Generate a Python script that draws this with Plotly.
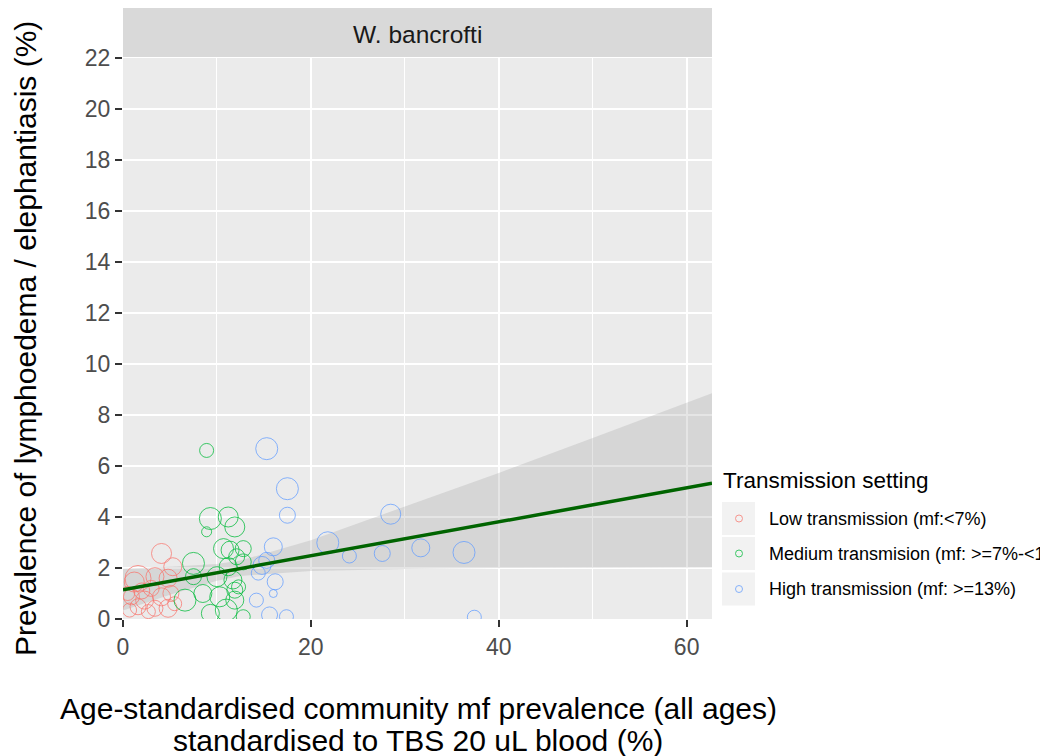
import plotly.graph_objects as go

# ---------------- data ----------------
low_x = [4.1, 5.3, 1.6, 3.4, 4.8, 0.9, 2.3, 4.1, 5.1, 1.6, 3.4, 4.8, 0.7, 2.7, 1.2, 3.0, 0.5, 2.0, 5.5]
low_y = [2.57, 2.05, 1.59, 1.66, 1.60, 0.87, 0.74, 0.87, 1.00, 0.48, 0.42, 0.42, 0.35, 0.29, 1.45, 1.20, 1.00, 1.10, 0.60]
low_n = [20, 18, 26, 18, 18, 16, 18, 18, 16, 16, 16, 18, 14, 14, 20, 16, 14, 16, 14]

med_x = [8.9, 9.3, 11.2, 11.9, 8.9, 10.7, 11.4, 12.8, 12.1, 7.5, 7.5, 11.2, 12.8, 10.0, 11.7, 12.3,
         6.6, 8.5, 10.3, 11.9, 11.0, 9.3, 12.8, 11.9]
med_y = [6.61, 3.94, 4.00, 3.61, 3.42, 2.76, 2.70, 2.76, 2.44, 2.18, 1.66, 2.05, 2.24, 1.66, 1.53, 1.26,
         0.74, 1.00, 0.87, 0.74, 0.35, 0.22, 0.09, 1.13]
med_n = [14, 22, 20, 20, 10, 20, 18, 16, 16, 22, 16, 18, 16, 20, 18, 14,
         22, 18, 20, 18, 22, 18, 14, 16]

high_x = [15.3, 17.5, 17.5, 21.8, 24.1, 27.6, 28.5, 31.7, 36.3, 37.4, 16.0, 15.3, 16.2, 16.0, 14.2,
          15.6, 17.4, 14.4, 14.8]
high_y = [6.68, 5.11, 4.07, 2.99, 2.47, 2.57, 4.11, 2.79, 2.61, 0.07, 2.83, 2.30, 1.46, 1.00, 0.74,
          0.16, 0.09, 1.80, 2.10]
high_n = [22, 22, 16, 22, 14, 16, 20, 18, 22, 14, 18, 16, 16, 8, 14, 16, 14, 14, 18]

fit_x = [0, 62.7]
fit_y = [1.15, 5.32]

band_x = [0, 5, 10, 12.5, 20, 30, 40, 50, 62.7]
band_upper = [1.97, 2.05, 2.16, 2.29, 3.09, 4.40, 5.73, 7.10, 8.85]
band_lower = [0.33, 0.95, 1.50, 1.69, 1.88, 1.96, 2.00, 2.02, 2.02]

group_names = ["Low transmission (mf:<7%)",
               "Medium transmision (mf: >=7%-<13%)",
               "High transmission (mf: >=13%)"]
group_colors = ["#F8766D", "#00BA38", "#619CFF"]

y_ticks = [0, 2, 4, 6, 8, 10, 12, 14, 16, 18, 20, 22]
x_ticks = [0, 20, 40, 60]

x_title_lines = ["Age-standardised community mf prevalence (all ages)",
                 "standardised to TBS 20 uL blood (%)"]
y_title = "Prevalence of lymphoedema / elephantiasis (%)"
strip_label = "W. bancrofti"
legend_title = "Transmission setting"

# ---------------- figure ----------------
FONT = "Liberation Sans, Arial, sans-serif"
W, H = 1040, 756
L, R, T, B = 123, 1040 - 712, 58, 756 - 619
PW, PH = W - L - R, H - T - B

def px(xp):
    return (xp - L) / PW

def py(yp):
    return (H - B - yp) / PH

fig = go.Figure()

# confidence band
fig.add_trace(go.Scatter(x=band_x, y=band_upper, mode="lines", line=dict(width=0),
                         showlegend=False, hoverinfo="skip"))
fig.add_trace(go.Scatter(x=band_x, y=band_lower, mode="lines", line=dict(width=0),
                         fill="tonexty", fillcolor="rgba(153,153,153,0.25)",
                         showlegend=False, hoverinfo="skip"))

for xs, ys, ns, name, col in [(low_x, low_y, low_n, group_names[0], group_colors[0]),
                              (med_x, med_y, med_n, group_names[1], group_colors[1]),
                              (high_x, high_y, high_n, group_names[2], group_colors[2])]:
    fig.add_trace(go.Scatter(
        x=xs, y=ys, mode="markers", name=name, showlegend=False,
        marker=dict(symbol="circle-open", size=ns, color=col, opacity=0.75,
                    line=dict(width=1, color=col)),
    ))

fig.add_trace(go.Scatter(x=fit_x, y=fit_y, mode="lines",
                         line=dict(color="#006400", width=3.5),
                         showlegend=False, hoverinfo="skip"))

axis_common = dict(
    showline=False, zeroline=False, ticks="outside", ticklen=7, tickwidth=2,
    tickcolor="#333333", tickfont=dict(family=FONT, size=23, color="#4D4D4D"),
    gridcolor="#FFFFFF", gridwidth=2,
)

fig.update_xaxes(range=[0, 62.7], tickvals=x_ticks, ticktext=[str(v) for v in x_ticks],
                 minor=dict(tickvals=[10, 30, 50], showgrid=True, gridcolor="#FFFFFF",
                            gridwidth=1, ticks=""),
                 **axis_common)
fig.update_yaxes(range=[0, 22], tickvals=y_ticks, ticktext=[str(v) for v in y_ticks],
                 **axis_common)

shapes = []
# facet strip
shapes.append(dict(type="rect", xref="paper", yref="paper", x0=0, x1=1,
                   y0=py(57), y1=py(8), fillcolor="#D9D9D9", line=dict(width=0),
                   layer="below"))

annotations = []
annotations.append(dict(text=strip_label, xref="paper", yref="paper", x=0.5, y=py(34),
                        xanchor="center", yanchor="middle", showarrow=False,
                        font=dict(family=FONT, size=24.5, color="#1A1A1A")))
annotations.append(dict(text=y_title,
                        xref="paper", yref="paper", x=px(25), y=py(339), textangle=-90,
                        xanchor="center", yanchor="middle", showarrow=False,
                        font=dict(family=FONT, size=30, color="#000000")))
for line, cy in zip(x_title_lines, [708, 740]):
    annotations.append(dict(text=line, xref="paper", yref="paper", x=px(418), y=py(cy),
                            xanchor="center", yanchor="middle", showarrow=False,
                            font=dict(family=FONT, size=30, color="#000000")))

# legend (drawn manually to match ggplot key boxes)
annotations.append(dict(text=legend_title, xref="paper", yref="paper",
                        x=px(721), y=py(480), xanchor="left", yanchor="middle",
                        showarrow=False, font=dict(family=FONT, size=22.5, color="#000000")))
key_centers = [518.5, 553.5, 589]
for name, col, cy in zip(group_names, group_colors, key_centers):
    shapes.append(dict(type="rect", xref="paper", yref="paper",
                       x0=px(722), x1=px(755), y0=py(cy + 16.5), y1=py(cy - 16.5),
                       fillcolor="#F2F2F2", line=dict(width=0)))
    shapes.append(dict(type="circle", xref="paper", yref="paper",
                       xsizemode="pixel", ysizemode="pixel",
                       xanchor=px(739), yanchor=py(cy),
                       x0=-3.5, x1=3.5, y0=-3.5, y1=3.5,
                       line=dict(color=col, width=1), fillcolor="rgba(0,0,0,0)",
                       opacity=0.75))
    annotations.append(dict(text=name, xref="paper", yref="paper",
                            x=px(767), y=py(cy), xanchor="left", yanchor="middle",
                            showarrow=False,
                            font=dict(family=FONT, size=18, color="#000000")))

fig.update_layout(
    width=W, height=H,
    margin=dict(l=L, r=R, t=T, b=B, pad=0),
    paper_bgcolor="#FFFFFF", plot_bgcolor="#EBEBEB",
    shapes=shapes, annotations=annotations,
    showlegend=False,
    font=dict(family=FONT),
)

fig.write_html("out.html")
